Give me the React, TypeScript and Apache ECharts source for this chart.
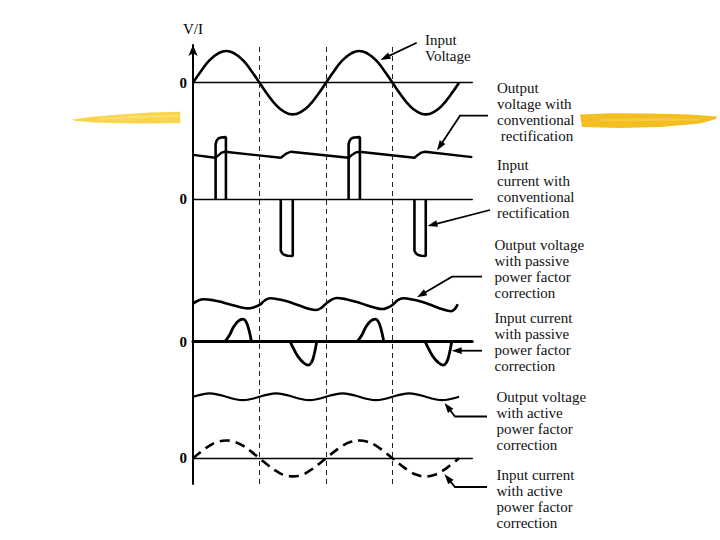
import React, { useEffect, useRef } from 'react';
import * as echarts from 'echarts';

// ---------- data (time in ms, amplitudes in per-unit of the input-voltage peak) ----------
const sampleTimes = [0, 1.25, 2.5, 3.75, 5, 6.25, 7.5, 8.75, 10, 11.25, 12.5, 13.75, 15, 16.25, 17.5, 18.75, 20, 21.25, 22.5, 23.75, 25, 26.25, 27.5, 28.75, 30, 31.25, 32.5, 33.75, 35, 36.25, 37.5, 38.75, 40];

const inputVoltage = [0, 0.38, 0.71, 0.92, 1.0, 0.92, 0.71, 0.38, 0, -0.38, -0.71, -0.92, -1.0, -0.92, -0.71, -0.38, 0, 0.38, 0.71, 0.92, 1.0, 0.92, 0.71, 0.38, 0, -0.38, -0.71, -0.92, -1.0, -0.92, -0.71, -0.38, 0];

const activeOutputVoltage = [1.94, 2.01, 2.045, 2.01, 1.94, 1.87, 1.835, 1.87, 1.94, 2.01, 2.045, 2.01, 1.94, 1.87, 1.835, 1.87, 1.94, 2.01, 2.045, 2.01, 1.94, 1.87, 1.835, 1.87, 1.94, 2.01, 2.045, 2.01, 1.94, 1.87, 1.835, 1.87, 1.94];

const activeInputCurrent = [0, 0.21, 0.4, 0.52, 0.56, 0.52, 0.4, 0.21, 0, -0.21, -0.4, -0.53, -0.57, -0.53, -0.4, -0.21, 0, 0.21, 0.4, 0.52, 0.56, 0.52, 0.4, 0.21, 0, -0.21, -0.4, -0.53, -0.57, -0.53, -0.4, -0.21, 0];

const convOutputVoltage = [
  [0, 1.4], [3.35, 1.31], [3.9, 1.4], [4.3, 1.47], [4.8, 1.5],
  [13.2, 1.31], [13.7, 1.39], [14.1, 1.45], [14.7, 1.5],
  [23.4, 1.31], [23.9, 1.4], [24.4, 1.47], [25.0, 1.5],
  [33.3, 1.31], [33.8, 1.4], [34.3, 1.47], [34.9, 1.5],
  [42, 1.33],
];

const convInputCurrentPulses = [
  [[3.4, 0], [3.4, 1.74], [3.55, 1.85], [3.8, 1.92], [4.2, 1.95], [4.95, 1.96], [4.95, 0]],
  [[13.2, 0], [13.2, -1.62], [13.4, -1.7], [13.7, -1.75], [14.2, -1.78], [15.0, -1.79], [15.0, 0]],
  [[23.4, 0], [23.4, 1.74], [23.55, 1.85], [23.8, 1.92], [24.2, 1.95], [25.1, 1.96], [25.1, 0]],
  [[33.3, 0], [33.3, -1.62], [33.5, -1.7], [33.8, -1.75], [34.3, -1.78], [35.0, -1.79], [35.0, 0]],
];

const passiveOutputVoltage = [
  [0, 1.2], [0.8, 1.3], [1.6, 1.34], [3, 1.31], [4.5, 1.24], [6, 1.15], [7.3, 1.08], [8.3, 1.05], [9.2, 1.09], [10, 1.16],
  [10.8, 1.3], [11.6, 1.37], [13, 1.33], [14.5, 1.25], [16, 1.14], [17.4, 1.04], [18.5, 1.0], [19.3, 1.07], [20, 1.2],
  [20.8, 1.32], [21.6, 1.38], [23, 1.34], [24.5, 1.26], [26, 1.16], [27.4, 1.07], [28.5, 1.03], [29.3, 1.08], [30, 1.16],
  [30.8, 1.31], [31.6, 1.37], [33, 1.33], [34.5, 1.25], [36, 1.14], [37.4, 1.03], [38.8, 0.96], [39.4, 1.04], [39.8, 1.18],
];

const passiveInputCurrentPulses = [
  [[4.8, 0], [5.5, 0.21], [6.05, 0.45], [6.8, 0.65], [7.55, 0.71], [7.95, 0.64], [8.35, 0.42], [8.8, 0]],
  [[14.6, 0], [15.1, -0.21], [15.8, -0.47], [16.6, -0.66], [17.3, -0.74], [17.8, -0.66], [18.2, -0.42], [18.6, 0]],
  [[24.7, 0], [25.4, 0.21], [25.95, 0.45], [26.7, 0.65], [27.45, 0.71], [27.85, 0.64], [28.25, 0.42], [28.7, 0]],
  [[34.9, 0], [35.4, -0.21], [36.1, -0.47], [36.9, -0.66], [37.6, -0.74], [38.1, -0.66], [38.5, -0.42], [38.9, 0]],
];

const halfCycleMarks = [10, 20, 30];
const zeroTickLabel = '0';
const axisName = 'V/I';

const annotationTexts = [
  'Input\nVoltage',
  'Output\nvoltage with\nconventional\n rectification',
  'Input\ncurrent with\nconventional\nrectification',
  'Output voltage\nwith passive\npower factor\ncorrection',
  'Input current\nwith passive\npower factor\ncorrection',
  'Output voltage\nwith active\npower factor\ncorrection',
  'Input current\nwith active\npower factor\ncorrection',
];

// ---------- layout ----------
const X_LEFT = 193;
const X_MAX = 42;
const PX_PER_MS = 6.65;
const PX_PER_UNIT = 31.7;
const GRID_WIDTH = X_MAX * PX_PER_MS;

const rows = [
  { zeroPx: 82.7, min: -1.2, max: 1.2, zeroWidth: 1.4 },
  { zeroPx: 199.3, min: -2, max: 2.2, zeroWidth: 1.4 },
  { zeroPx: 341.7, min: -1, max: 1.6, zeroWidth: 3 },
  { zeroPx: 458.3, min: -0.8, max: 2.2, zeroWidth: 1.4 },
];

const textPositions = [
  [425, 31.5], [497, 80.3], [497, 157], [494.5, 237], [494.5, 310.3], [496.5, 388.7], [496.5, 467],
];

const arrowPaths = [
  [[416.7, 42.7], [380.5, 60]],
  [[488, 115.7], [460, 115.7], [437, 150.5]],
  [[490, 210], [427.5, 226]],
  [[482, 276.7], [452, 276.7], [417, 297.3]],
  [[482, 350.7], [451.7, 350.7]],
  [[487, 416.5], [455, 416.5], [444.5, 403]],
  [[487, 487], [455, 487], [444.5, 474.3]],
];

const SERIF = '"Liberation Serif", "Times New Roman", serif';

function arrowGraphic(pts: number[][]) {
  const n = pts.length;
  const tip = pts[n - 1];
  const prev = pts[n - 2];
  const dx = tip[0] - prev[0];
  const dy = tip[1] - prev[1];
  const len = Math.sqrt(dx * dx + dy * dy);
  const ux = dx / len;
  const uy = dy / len;
  const headLen = 10;
  const headHalf = 3.4;
  const bx = tip[0] - ux * headLen;
  const by = tip[1] - uy * headLen;
  const linePts = pts.slice(0, n - 1).concat([[tip[0] - ux * 6, tip[1] - uy * 6]]);
  return [
    {
      type: 'polyline',
      z: 20,
      shape: { points: linePts },
      style: { stroke: '#000', lineWidth: 1.8, fill: null },
    },
    {
      type: 'polygon',
      z: 20,
      shape: {
        points: [
          [tip[0], tip[1]],
          [bx - uy * headHalf, by + ux * headHalf],
          [bx + uy * headHalf, by - ux * headHalf],
        ],
      },
      style: { fill: '#000' },
    },
  ];
}

export default function App() {
  const ref = useRef<HTMLDivElement>(null);

  useEffect(() => {
    if (!ref.current) return;
    const chart = echarts.init(ref.current, undefined, { renderer: 'svg' });

    const grids: any[] = [
      { left: X_LEFT, top: 45, width: GRID_WIDTH, height: 484 - 45, outerBoundsMode: 'none' },
    ];
    const xAxes: any[] = [
      { type: 'value', gridIndex: 0, min: 0, max: X_MAX, show: false },
    ];
    const yAxes: any[] = [
      {
        type: 'value', gridIndex: 0, min: 0, max: 1,
        name: axisName, nameLocation: 'end', nameGap: 9,
        nameTextStyle: { fontFamily: SERIF, fontSize: 15, color: '#000', align: 'center' },
        axisLine: { show: true, symbol: ['none', 'arrow'], symbolSize: [7, 11], lineStyle: { color: '#000', width: 2 } },
        axisTick: { show: false }, axisLabel: { show: false }, splitLine: { show: false },
      },
    ];

    rows.forEach((r, i) => {
      const gi = i + 1;
      grids.push({
        left: X_LEFT,
        width: GRID_WIDTH,
        top: r.zeroPx - r.max * PX_PER_UNIT,
        height: (r.max - r.min) * PX_PER_UNIT,
        outerBoundsMode: 'none',
      });
      xAxes.push({
        type: 'value', gridIndex: gi, min: 0, max: X_MAX,
        axisLine: { show: true, onZero: true, lineStyle: { color: '#000', width: r.zeroWidth } },
        axisTick: { show: false }, axisLabel: { show: false }, splitLine: { show: false },
      });
      yAxes.push({
        type: 'value', gridIndex: gi, min: r.min, max: r.max,
        axisLine: { show: false }, axisTick: { show: false }, splitLine: { show: false },
        axisLabel: {
          show: true,
          customValues: [0],
          formatter: (v: number) => (v === 0 ? zeroTickLabel : ''),
          fontFamily: SERIF, fontWeight: 'bold', fontSize: 15, color: '#000', margin: 6,
        },
      });
    });

    const lineBase = (idx: number, width: number, extra: any = {}) => ({
      type: 'line',
      xAxisIndex: idx,
      yAxisIndex: idx,
      symbol: 'none',
      silent: true,
      clip: false,
      lineStyle: { color: '#000', width, ...(extra.lineStyle || {}) },
      ...extra.rest,
    });

    const series: any[] = [
      {
        type: 'line', xAxisIndex: 0, yAxisIndex: 0, data: [], symbol: 'none', silent: true,
        markLine: {
          silent: true, symbol: 'none', label: { show: false },
          lineStyle: { color: '#222', width: 1, type: [5, 4] },
          data: halfCycleMarks.map((x) => ({ xAxis: x })),
        },
      },
      {
        ...lineBase(1, 2.6),
        smooth: true,
        data: sampleTimes.map((t, k) => [t, inputVoltage[k]]),
      },
      {
        ...lineBase(2, 2.4),
        data: convOutputVoltage,
      },
      ...convInputCurrentPulses.map((p) => ({ ...lineBase(2, 2.6), data: p })),
      {
        ...lineBase(3, 2.6),
        smooth: 0.4,
        data: passiveOutputVoltage,
      },
      ...passiveInputCurrentPulses.map((p) => ({ ...lineBase(3, 2.8), smooth: 0.4, data: p })),
      {
        ...lineBase(4, 2.2),
        smooth: true,
        data: sampleTimes.map((t, k) => [t, activeOutputVoltage[k]]),
      },
      {
        ...lineBase(4, 2.6, { lineStyle: { type: [10, 6] } }),
        smooth: true,
        data: sampleTimes.map((t, k) => [t, activeInputCurrent[k]]),
      },
    ];

    const graphics: any[] = [
      // yellow brush strokes (decoration)
      {
        type: 'polygon', z: -10,
        shape: { points: [[72, 119.5], [90, 117], [120, 114.5], [150, 112.5], [180, 111.8], [180.5, 123], [150, 123.6], [120, 123.2], [95, 122.4], [76, 121]] },
        style: { fill: '#F8D54B' },
      },
      {
        type: 'polygon', z: -9,
        shape: { points: [[100, 118], [140, 115.5], [178, 115], [178, 117], [140, 118], [100, 119.5]] },
        style: { fill: '#FBE27A', opacity: 0.8 },
      },
      {
        type: 'polygon', z: -10,
        shape: { points: [[580, 114.5], [610, 113.2], [650, 113.5], [690, 114.5], [717, 116.5], [716, 119], [700, 123.5], [660, 127], [620, 128], [582, 127]] },
        style: { fill: '#F3BE22' },
      },
      {
        type: 'polygon', z: -9,
        shape: { points: [[600, 119], [650, 118], [700, 119], [700, 120.5], [650, 121], [600, 121]] },
        style: { fill: '#F7CE45', opacity: 0.7 },
      },
    ];

    annotationTexts.forEach((txt, i) => {
      graphics.push({
        type: 'text', z: 20,
        x: textPositions[i][0], y: textPositions[i][1],
        style: {
          text: txt, fill: '#111', font: `15px ${SERIF}`, lineHeight: 16,
          align: 'left', verticalAlign: 'top',
        },
      });
    });
    arrowPaths.forEach((p) => graphics.push(...arrowGraphic(p)));

    chart.setOption({
      animation: false,
      backgroundColor: '#fff',
      grid: grids,
      xAxis: xAxes,
      yAxis: yAxes,
      series,
      graphic: { elements: graphics },
    });

    return () => chart.dispose();
  }, []);

  return (
    <div
      ref={ref}
      style={{ position: 'absolute', left: 0, top: 0, width: 720, height: 540, background: '#fff' }}
    />
  );
}
